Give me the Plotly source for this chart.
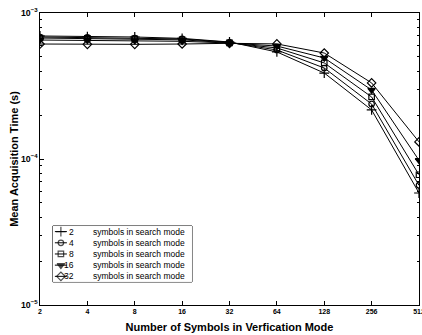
import plotly.graph_objects as go
import math

x_vals = [2, 4, 8, 16, 32, 64, 128, 256, 512]
x_labels = ["2", "4", "8", "16", "32", "64", "128", "256", "512"]

s2 = [6.96e-4, 6.90e-4, 6.85e-4, 6.70e-4, 6.33e-4, 5.41e-4, 3.88e-4, 2.17e-4, 5.85e-5]
s4 = [6.85e-4, 6.80e-4, 6.74e-4, 6.64e-4, 6.30e-4, 5.58e-4, 4.20e-4, 2.38e-4, 6.6e-5]
s8 = [6.74e-4, 6.70e-4, 6.64e-4, 6.55e-4, 6.25e-4, 5.76e-4, 4.55e-4, 2.66e-4, 7.8e-5]
s16 = [6.53e-4, 6.50e-4, 6.45e-4, 6.40e-4, 6.23e-4, 5.94e-4, 4.92e-4, 2.97e-4, 9.8e-5]
s32 = [6.13e-4, 6.10e-4, 6.10e-4, 6.13e-4, 6.20e-4, 6.14e-4, 5.32e-4, 3.32e-4, 1.31e-4]

search_counts = ["2", "4", "8", "16", "32"]
legend_text = "symbols in search mode"
series = [s2, s4, s8, s16, s32]
symbols = ["cross-thin-open", "circle-open", "square-open", "triangle-down", "diamond-open"]
sizes = [7, 5.5, 5.5, 6.5, 6.5]

fig = go.Figure()
for cnt, ys, sym, sz in zip(search_counts, series, symbols, sizes):
    fig.add_trace(go.Scatter(
        x=x_vals, y=ys, name=cnt + " " + legend_text, mode="lines+markers",
        showlegend=False,
        line=dict(color="black", width=1),
        marker=dict(symbol=sym, size=sz, color="black",
                    line=dict(color="black", width=1.2)),
    ))

# custom compact legend in an inset axis (box drawn as a shape)
leg_x0, leg_x1 = 0.034, 0.401
leg_y0, leg_y1 = 0.079, 0.2705
for i, (cnt, sym, sz) in enumerate(zip(search_counts, symbols, sizes)):
    fig.add_trace(go.Scatter(
        x=[2, 8, 14], y=[i, i, i], mode="lines+markers", showlegend=False,
        hoverinfo="skip", xaxis="x2", yaxis="y2",
        line=dict(color="black", width=1),
        marker=dict(symbol=sym, size=[0, sz, 0], color="black",
                    line=dict(color="black", width=1.2)),
    ))
    fig.add_annotation(x=23.5, y=i, xref="x2", yref="y2", text=cnt,
                       showarrow=False, xanchor="right", yanchor="middle",
                       font=dict(size=8.5, color="black"))
    fig.add_annotation(x=38, y=i, xref="x2", yref="y2", text=legend_text,
                       showarrow=False, xanchor="left", yanchor="middle",
                       font=dict(size=8.5, color="black"))

fig.add_shape(type="rect", xref="paper", yref="paper",
              x0=leg_x0, x1=leg_x1, y0=leg_y0, y1=leg_y1,
              line=dict(color="black", width=1), fillcolor="white", layer="below")

fig.update_layout(
    width=422, height=335,
    margin=dict(l=40, r=3, t=13, b=30),
    paper_bgcolor="white", plot_bgcolor="white",
    font=dict(family="Liberation Sans, Arial, sans-serif", color="black"),
    showlegend=False,
    xaxis=dict(
        type="log", range=[math.log10(2), math.log10(512)],
        tickvals=x_vals, ticktext=x_labels,
        ticks="inside", ticklen=4, tickcolor="black",
        showline=True, linecolor="black", linewidth=1, mirror="allticks",
        showgrid=False, zeroline=False, automargin=False,
        ticklabeloverflow="allow",
        tickfont=dict(size=7, weight="bold"),
        title=dict(text="Number of Symbols in Verfication Mode",
                   font=dict(size=11, weight="bold"), standoff=8),
    ),
    yaxis=dict(
        type="log", range=[-5, -3], dtick=1, exponentformat="power",
        ticks="inside", ticklen=4, tickcolor="black",
        minor=dict(ticks="inside", ticklen=2, tickcolor="black", dtick="D1", showgrid=False),
        showline=True, linecolor="black", linewidth=1, mirror="allticks",
        showgrid=False, zeroline=False, automargin=False,
        tickfont=dict(size=7, weight="bold"),
        title=dict(text="Mean Acquisition Time (s)",
                   font=dict(size=11, weight="bold"), standoff=0),
    ),
    xaxis2=dict(domain=[leg_x0, leg_x1], range=[0, 139], anchor="y2",
                visible=False, fixedrange=True),
    yaxis2=dict(domain=[leg_y0, leg_y1], range=[4.5, -0.5], anchor="x2",
                visible=False, fixedrange=True),
)

fig.write_html("out.html")
